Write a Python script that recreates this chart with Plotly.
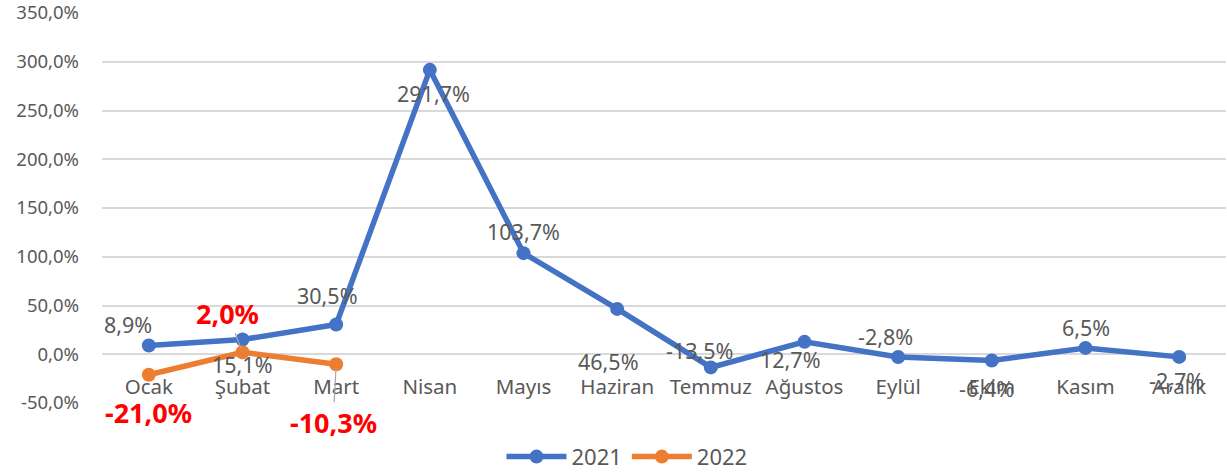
import plotly.graph_objects as go

months = ["Ocak", "Şubat", "Mart", "Nisan", "Mayıs", "Haziran", "Temmuz",
          "Ağustos", "Eylül", "Ekim", "Kasım", "Aralık"]
values_2021 = [8.9, 15.1, 30.5, 291.7, 103.7, 46.5, -13.5, 12.7, -2.8, -6.4, 6.5, -2.7]
values_2022 = [-21.0, 2.0, -10.3]
y_ticks = [-50, 0, 50, 100, 150, 200, 250, 300, 350]

# label offsets (px) relative to the point
off_2021 = [(-21, 21), (0, -25), (-9, 29), (4, -24), (0, 22), (-9, -53),
            (-11, 17), (-14, -18), (-13, 20), (-5, -28), (0, 20), (-3, -24)]
off_2022 = [(0, -38), (-15, 39), (-3, -58)]

BLUE = "#4472C4"
ORANGE = "#ED7D31"
GREY = "#595959"
FONT = "Noto Sans"

def fmt(v):
    return f"{v:.1f}".replace(".", ",") + "%"

fig = go.Figure()
fig.add_trace(go.Scatter(x=months, y=values_2021, name="2021", mode="lines+markers",
                         line=dict(color=BLUE, width=5.5), marker=dict(size=14, color=BLUE)))
fig.add_trace(go.Scatter(x=months[:len(values_2022)], y=values_2022, name="2022",
                         mode="lines+markers",
                         line=dict(color=ORANGE, width=5.5), marker=dict(size=14, color=ORANGE)))

annotations = []
for m, v, (dx, dy) in zip(months, values_2021, off_2021):
    annotations.append(dict(x=m, y=v, text=fmt(v), showarrow=False, xshift=dx, yshift=dy,
                            font=dict(family=FONT, size=21.5, color=GREY)))
for i, (m, v, (dx, dy)) in enumerate(zip(months, values_2022, off_2022)):
    if i == 0:
        annotations.append(dict(x=m, y=v, text="<b>" + fmt(v) + "</b>", showarrow=False,
                                xshift=dx, yshift=dy,
                                font=dict(family=FONT, size=27, color="#FF0000")))
    else:
        annotations.append(dict(x=m, y=v, text="<b>" + fmt(v) + "</b>", showarrow=True,
                                arrowhead=0, arrowwidth=1.2, arrowcolor="#A6A6A6",
                                ax=dx, ay=-dy, standoff=4,
                                font=dict(family=FONT, size=27, color="#FF0000")))

fig.update_layout(
    width=1227, height=474,
    margin=dict(l=102, r=1, t=13, b=71, autoexpand=False),
    paper_bgcolor="white", plot_bgcolor="white",
    separators=",.",
    font=dict(family=FONT, size=20, color=GREY),
    showlegend=True,
    legend=dict(orientation="h", xref="container", x=0.511, xanchor="center",
                y=-0.138, yanchor="middle",
                font=dict(family=FONT, size=22, color=GREY), itemwidth=60),
    annotations=annotations,
)
fig.update_xaxes(type="category", categoryorder="array", categoryarray=months,
                 range=[-0.5, 11.5], showgrid=False, showline=False, zeroline=False,
                 anchor="free", position=0.125, ticks="", ticklabelstandoff=18,
                 automargin=False, ticklabeloverflow="allow",
                 tickfont=dict(family=FONT, size=20.5, color=GREY))
fig.update_yaxes(range=[-50, 350], tickvals=y_ticks,
                 ticktext=[fmt(t).replace("−", "-") for t in y_ticks],
                 showgrid=True, gridcolor="#D9D9D9", gridwidth=2, zeroline=False,
                 showline=False, ticks="", ticklabelstandoff=22, automargin=False,
                 ticklabeloverflow="allow",
                 tickfont=dict(family=FONT, size=18.5, color=GREY))

fig.write_html("out.html", config={"displayModeBar": False},
               post_script="document.body.style.margin='0';document.body.style.overflow='hidden';")
